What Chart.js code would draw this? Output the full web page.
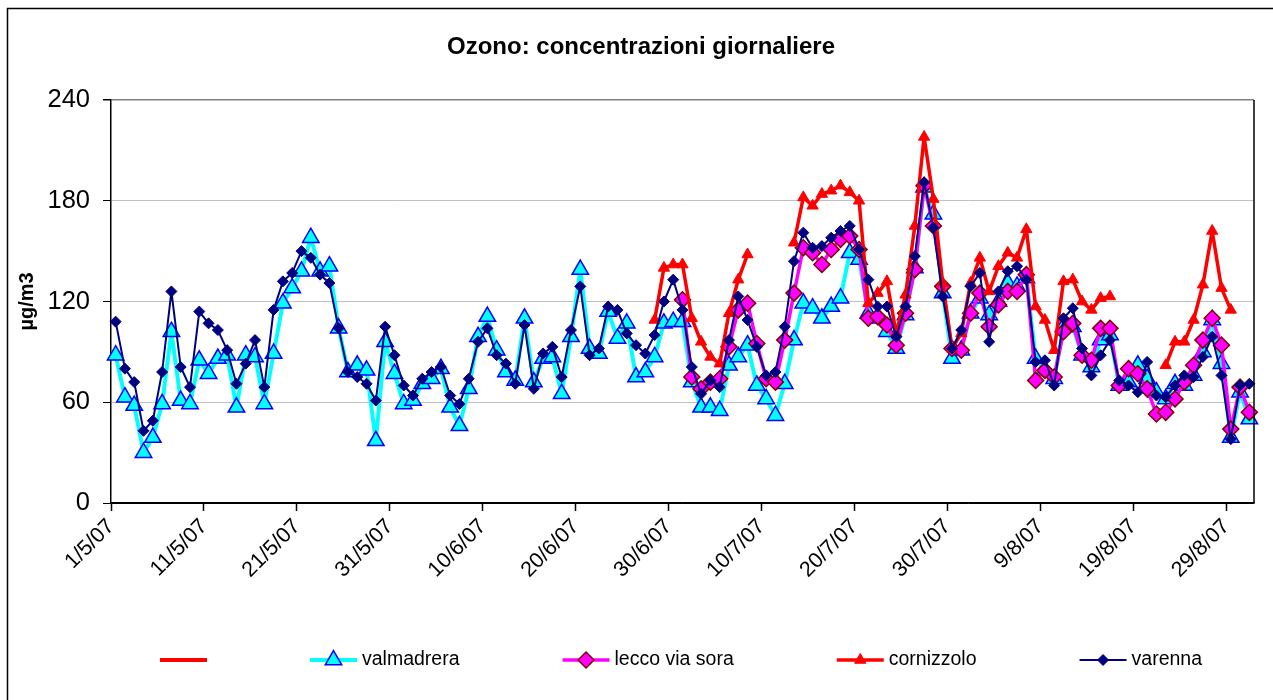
<!DOCTYPE html>
<html>
<head>
<meta charset="utf-8">
<title>Ozono: concentrazioni giornaliere</title>
<script src="https://cdn.jsdelivr.net/npm/chart.js@4/dist/chart.umd.min.js"></script>
<style>
  html, body { margin: 0; padding: 0; background: #fff; }
</style>
</head>
<body>
<canvas id="ozono" width="1273" height="700"></canvas>
<script>
var titleText = "Ozono: concentrazioni giornaliere";
var yTicks = [0, 60, 120, 180, 240];

// one category per day, 1/5/07 .. 31/8/07
var days = [];
var d = new Date(2007, 4, 1);
while (d.getMonth() < 8) {
  days.push(d.getDate() + "/" + (d.getMonth() + 1) + "/07");
  d.setDate(d.getDate() + 1);
}

var valmadrera = [
  88, 63, 58, 30, 39, 59, 102, 61, 59, 85,
  77, 86, 88, 57, 88, 87, 59, 89, 119, 128,
  138, 158, 138, 141, 104, 78, 82, 79, 37, 96,
  77, 59, 61, 71, 74, 80, 57, 46, 68, 99,
  111, 91, 78, 73, 110, 72, 86, 87, 65, 99,
  139, 92, 89, 114, 98, 107, 75, 78, 87, 107,
  108, 108, 72, 57, 57, 55, 82, 87, 94, 70,
  62, 52, 71, 97, 119, 116, 110, 117, 122, 149,
  145, 113, 110, 102, 92, 112, 140, 188, 172, 125,
  86, 91, 113, 122, 112, 120, 131, 129, 134, 86,
  79, 74, 105, 105, 88, 81, 97, 100, 70, 72,
  82, 74, 66, 62, 71, 70, 76, 90, 109, 83,
  39, 66, 50
];

var leccoViaSora = [
  null, null, null, null, null, null, null, null, null, null,
  null, null, null, null, null, null, null, null, null, null,
  null, null, null, null, null, null, null, null, null, null,
  null, null, null, null, null, null, null, null, null, null,
  null, null, null, null, null, null, null, null, null, null,
  null, null, null, null, null, null, null, null, null, null,
  null, 121, 75, 68, 72, 74, 93, 115, 119, 95,
  74, 72, 97, 125, 152, 149, 142, 151, 157, 159,
  151, 110, 111, 106, 94, 113, 139, 189, 165, 129,
  92, 91, 113, 125, 105, 118, 126, 126, 136, 73,
  79, 75, 102, 107, 88, 85, 104, 104, 70, 80,
  77, 68, 53, 54, 62, 72, 82, 97, 110, 94,
  44, 69, 54
];

var cornizzolo = [
  null, null, null, null, null, null, null, null, null, null,
  null, null, null, null, null, null, null, null, null, null,
  null, null, null, null, null, null, null, null, null, null,
  null, null, null, null, null, null, null, null, null, null,
  null, null, null, null, null, null, null, null, null, null,
  null, null, null, null, null, null, null, null, 109, 140,
  142, 142, 110, 96, 87, 83, 113, 133, 148, null,
  null, null, null, 155, 182, 177, 184, 186, 189, 185,
  180, 119, 125, 132, 101, 124, 165, 218, 181, 131,
  92, 101, 131, 146, 126, 141, 149, 146, 163, 117,
  109, 91, 132, 133, 120, 115, 122, 123, null, null,
  null, null, null, 82, 96, 96, 109, 130, 162, 128,
  115, null, null
];

var varenna = [
  108, 80, 72, 43, 49, 78, 126, 81, 69, 114,
  107, 103, 91, 71, 83, 97, 69, 115, 132, 137,
  150, 146, 136, 131, 104, 78, 75, 71, 61, 105,
  88, 70, 64, 74, 78, 81, 64, 59, 74, 96,
  104, 88, 83, 71, 106, 68, 89, 93, 75, 103,
  129, 88, 92, 117, 115, 101, 94, 89, 100, 120,
  133, 115, 81, 65, 73, 69, 97, 123, 109, 93,
  76, 78, 105, 144, 161, 152, 153, 158, 162, 165,
  151, 133, 117, 117, 99, 117, 147, 191, 164, 123,
  92, 103, 129, 137, 96, 126, 138, 141, 133, 84,
  85, 70, 110, 116, 92, 76, 88, 97, 73, 70,
  66, 84, 64, 63, 70, 76, 75, 87, 99, 76,
  38, 70, 71
];

var FONT = '"Liberation Sans", Arial, sans-serif';

function marker(ctx, style, x, y, r, fill, stroke, lw) {
  ctx.beginPath();
  if (style === "triangle") {
    for (var k = 0; k < 3; k++) {
      var a = k * 2 * Math.PI / 3;
      ctx.lineTo(x + Math.sin(a) * r, y - Math.cos(a) * r);
    }
  } else {
    ctx.moveTo(x - r, y);
    ctx.lineTo(x, y - r);
    ctx.lineTo(x + r, y);
    ctx.lineTo(x, y + r);
  }
  ctx.closePath();
  ctx.fillStyle = fill;
  ctx.fill();
  ctx.lineWidth = lw;
  ctx.strokeStyle = stroke;
  ctx.stroke();
}

// title, outer frame, plot border and the legend row at the bottom
var decor = {
  id: "decor",
  beforeDraw: function (chart) {
    var ctx = chart.ctx;
    ctx.save();
    ctx.fillStyle = "#fff";
    ctx.fillRect(0, 0, chart.width, chart.height);
    ctx.restore();
  },
  afterDraw: function (chart) {
    var ctx = chart.ctx, area = chart.chartArea;
    ctx.save();
    ctx.strokeStyle = "#000";
    ctx.lineWidth = 1.5;
    ctx.beginPath();
    ctx.moveTo(7.5, chart.height);
    ctx.lineTo(7.5, 8.5);
    ctx.lineTo(chart.width, 8.5);
    ctx.stroke();

    ctx.beginPath();
    ctx.moveTo(area.right, area.top);
    ctx.lineTo(area.right, area.bottom);
    ctx.stroke();

    ctx.fillStyle = "#000";
    ctx.font = "bold 24px " + FONT;
    ctx.textAlign = "center";
    ctx.textBaseline = "middle";
    ctx.fillText(titleText, 641, 47);

    var y = 660, x = 160;
    ctx.font = "19.5px " + FONT;
    ctx.textAlign = "left";
    chart.data.datasets.forEach(function (ds) {
      ctx.strokeStyle = ds.borderColor;
      ctx.lineWidth = ds.borderWidth;
      ctx.beginPath();
      ctx.moveTo(x, y);
      ctx.lineTo(x + 47, y);
      ctx.stroke();
      if (ds.pointRadius > 0) {
        marker(ctx, ds.pointStyle, x + 23.5, y, ds.pointRadius,
          ds.pointBackgroundColor, ds.pointBorderColor, ds.pointBorderWidth);
      }
      x += 47;
      if (ds.label) {
        ctx.fillStyle = "#000";
        ctx.fillText(ds.label, x + 5, y);
        x += 5 + ctx.measureText(ds.label).width;
      }
      x += 103;
    });
    ctx.restore();
  }
};

new Chart("ozono", {
  type: "line",
  data: {
    labels: days,
    datasets: [{
      label: "",
      data: [],
      borderColor: "#FF0000",
      borderWidth: 4,
      pointRadius: 0,
      order: 4
    }, {
      label: "valmadrera",
      data: valmadrera,
      borderColor: "#00FFFF",
      borderWidth: 4,
      pointStyle: "triangle",
      pointRadius: 9.5,
      pointBackgroundColor: "#00FFFF",
      pointBorderColor: "#0000FF",
      pointBorderWidth: 1.5,
      order: 3
    }, {
      label: "lecco via sora",
      data: leccoViaSora,
      borderColor: "#FF00FF",
      borderWidth: 3.5,
      pointStyle: "rectRot",
      pointRadius: 8,
      pointBackgroundColor: "#FF00FF",
      pointBorderColor: "#800000",
      pointBorderWidth: 1.5,
      order: 2
    }, {
      label: "cornizzolo",
      data: cornizzolo,
      borderColor: "#FF0000",
      borderWidth: 3.5,
      pointStyle: "triangle",
      pointRadius: 6.5,
      pointBackgroundColor: "#FF0000",
      pointBorderColor: "#FF0000",
      pointBorderWidth: 1,
      order: 1
    }, {
      label: "varenna",
      data: varenna,
      borderColor: "#000080",
      borderWidth: 2,
      pointStyle: "rectRot",
      pointRadius: 5.5,
      pointBackgroundColor: "#000080",
      pointBorderColor: "#000080",
      pointBorderWidth: 1,
      order: 0
    }]
  },
  options: {
    responsive: false,
    animation: false,
    spanGaps: false,
    layout: { padding: { top: 100, right: 19, bottom: 87, left: 0 } },
    elements: { line: { tension: 0, borderJoinStyle: "round" } },
    plugins: {
      legend: { display: false },
      title: { display: false },
      tooltip: { enabled: false }
    },
    scales: {
      x: {
        type: "category",
        offset: true,
        border: { color: "#000", width: 1.5 },
        grid: {
          offset: true,
          drawOnChartArea: false,
          tickLength: 8,
          tickColor: function (c) { return c.index % 10 === 0 ? "#000" : "rgba(0,0,0,0)"; },
          tickWidth: 1.5
        },
        ticks: {
          autoSkip: false,
          minRotation: 45,
          maxRotation: 45,
          labelOffset: -4.6,
          padding: 3,
          color: "#000",
          font: { family: FONT, size: 21.5 },
          callback: function (v, i) { return i % 10 === 0 ? days[i] : ""; }
        },
        afterFit: function (scale) { scale.height = 110; }
      },
      y: {
        min: 0,
        max: 240,
        border: { color: "#000", width: 1.5 },
        grid: {
          color: function (c) {
            if (c.tick.value === 240) return "#808080";
            if (c.tick.value === 0) return "#000";
            return "#C0C0C0";
          },
          lineWidth: function (c) { return c.tick.value === 240 ? 1.5 : 1; },
          tickLength: 8,
          tickColor: "#000"
        },
        afterBuildTicks: function (scale) {
          scale.ticks = yTicks.map(function (v) { return { value: v }; });
        },
        ticks: {
          padding: 13,
          color: "#000",
          font: { family: FONT, size: 25.5 }
        },
        title: {
          display: true,
          text: "µg/m3",
          color: "#000",
          font: { family: FONT, size: 20, weight: "bold" },
          padding: { top: 15, bottom: 0 }
        },
        afterFit: function (scale) { scale.width = 111; }
      }
    }
  },
  plugins: [decor]
});
</script>
</body>
</html>
